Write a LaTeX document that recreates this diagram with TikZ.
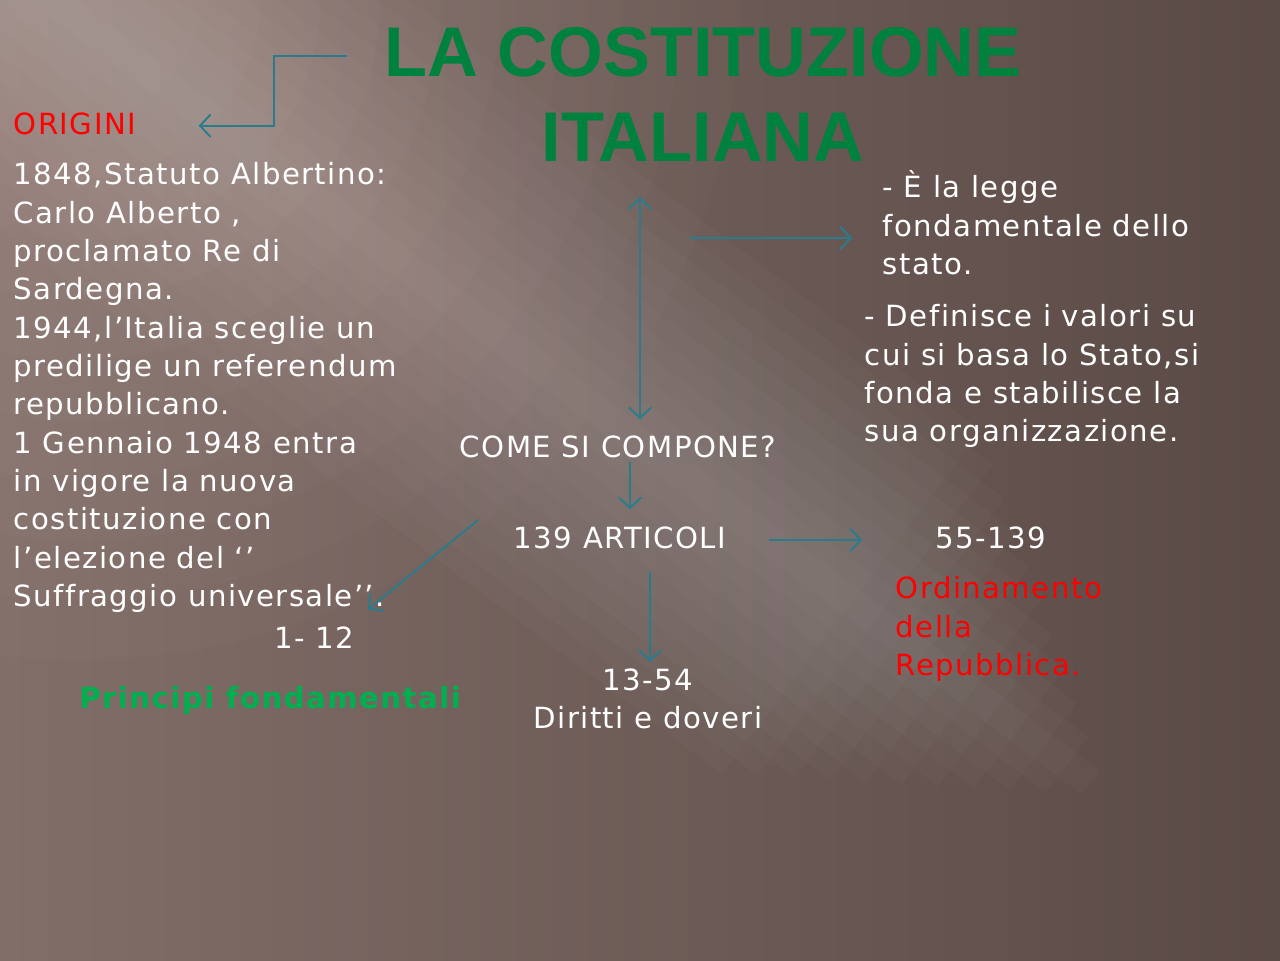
\documentclass[tikz,border=0pt]{standalone}
\usepackage{fontspec}
\setmainfont{DejaVu Sans}[LetterSpace=5, Ligatures=NoCommon]
\newfontfamily\titlefont{Liberation Sans}
\usepackage{tikz}
\usetikzlibrary{calc, arrows.meta}
\usepackage{xcolor}

\definecolor{titlegreen}{RGB}{0,130,62}
\definecolor{pgreen}{RGB}{0,176,80}
\definecolor{arrowteal}{RGB}{42,124,140}
\definecolor{bgleft}{RGB}{130,110,105}
\definecolor{bgright}{RGB}{90,74,70}
\definecolor{glow}{RGB}{235,205,200}

\tikzset{
  txt/.style={text=white, inner sep=0pt, font=\fontsize{8.3}{10.9}\selectfont},
  conn/.style={arrowteal, line width=0.55pt, -{Straight Barb[length=3pt,width=6.4pt]}},
  dconn/.style={conn, {Straight Barb[length=3pt,width=6.4pt]}-{Straight Barb[length=3pt,width=6.4pt]}}
}

\begin{document}
\begin{tikzpicture}[x=0.01cm,y=0.01cm]

% Background
\useasboundingbox (0,0) rectangle (1280,960);
\shade[left color=bgleft, right color=bgright] (0,0) rectangle (1280,960);
\foreach \r in {120,180,...,660}
  \fill[glow,opacity=0.024] (80,960) circle (\r);
\begin{scope}[rotate around={-37:(550,585)}]
  \foreach \w in {15,35,...,215}
    \fill[white,opacity=0.018] (-900,585-\w) rectangle ({1250-1.5*\w},585+\w);
\end{scope}

% Title
\node[anchor=north, inner sep=0pt, align=center, text=titlegreen,
      font=\titlefont\bfseries\fontsize{20}{24.1}\selectfont] (title) at (703,933)
  {LA COSTITUZIONE\\ITALIANA};

% Origini
\node[txt, anchor=north west, text=red] (origini) at (13,848) {ORIGINI};
\node[txt, anchor=north west, align=left] (storia) at (13,798)
  {1848,Statuto Albertino:\\Carlo Alberto ,\\proclamato Re di\\Sardegna.\\1944,l’Italia sceglie un\\predilige un referendum\\repubblicano.\\1 Gennaio 1948 entra\\in vigore la nuova\\costituzione con\\l’elezione del ‘’\\Suffraggio universale’’.};

% Definizioni
\node[txt, anchor=north west, align=left] (legge) at (882,790)
  {- È la legge\\fondamentale dello\\stato.};
\node[txt, anchor=north west, align=left] (valori) at (864,656)
  {- Definisce i valori su\\cui si basa lo Stato,si\\fonda e stabilisce la\\sua organizzazione.};

% Struttura
\node[txt] (come) at (618,513) {COME SI COMPONE?};
\node[txt] (art) at (620,422) {139 ARTICOLI};
\node[txt] (ordnum) at (991,422) {55-139};
\node[txt, anchor=north west, align=left, text=red] (ordin) at (895,384)
  {Ordinamento\\della\\Repubblica.};
\node[txt] (princnum) at (314,322) {1- 12};
\node[txt, text=pgreen, font=\bfseries\fontsize{8.3}{10.9}\selectfont] (princ) at (270,260) {Principi fondamentali};
\node[txt, anchor=north, align=center] (diritti) at (648,292) {13-54\\Diritti e doveri};

% Connectors
\draw[conn] ($(title.north west)+(-37,-29)$) -| ($(origini.east)+(137,-2)$) -- ($(origini.east)+(62,-2)$);
\draw[dconn] ($(come.north |- title.south)+(22,-35)$) -- ($(come.north)+(22,16)$);
\draw[conn] ($(legge.north west)+(-192,-68)$) -- ($(legge.north west)+(-30,-68)$);
\draw[conn] ($(come.south)+(12,-3)$) -- ($(art.north -| come.south)+(12,17)$);
\draw[conn] ($(art.east)+(42,-2)$) -- ($(ordnum.west)+(-73,-2)$);
\draw[conn] ($(art.south)+(30,-22)$) -- ($(art.south |- diritti.north)+(30,6)$);
\draw[conn] ($(art.west)+(-35,18)$) -- ($(princnum.north)+(54,17)$);

\end{tikzpicture}
\end{document}
